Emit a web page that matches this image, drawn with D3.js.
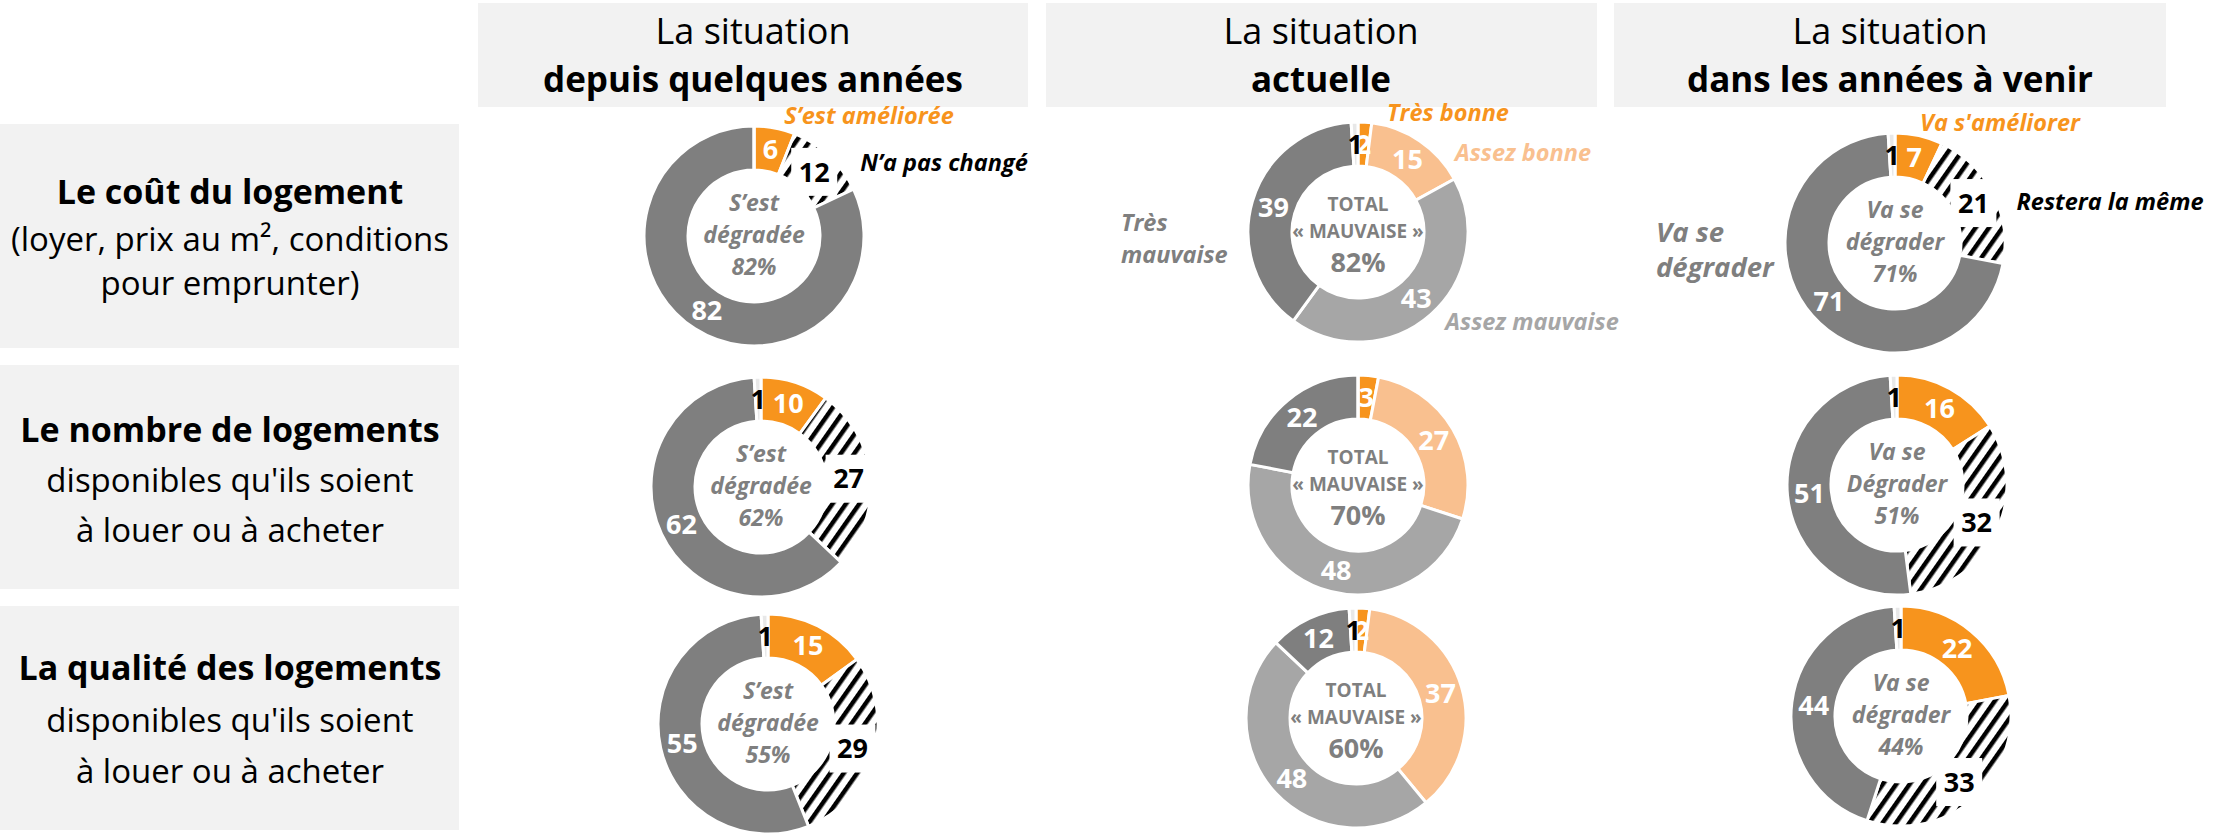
<!DOCTYPE html>
<html lang="fr">
<head>
<meta charset="utf-8">
<title>Logement - situation</title>
<script src="https://d3js.org/d3.v7.min.js"></script>
<style>
  body { margin: 0; background: #fff; }
  svg { display: block; font-family: "Open Sans", sans-serif; }
</style>
</head>
<body>
<script>
// ---- data ----
var columnTitles = ["depuis quelques années", "actuelle", "dans les années à venir"];
var rowTitles = ["Le coût du logement", "Le nombre de logements", "La qualité des logements"];
var rowSubtitles = [
  ["(loyer, prix au m², conditions", "pour emprunter)"],
  ["disponibles qu'ils soient", "à louer ou à acheter"],
  ["disponibles qu'ils soient", "à louer ou à acheter"]
];

var pastCategories = ["S’est améliorée", "N’a pas changé", "S’est dégradée", "NSP"];
var pastValues = [[6, 12, 82, 0], [10, 27, 62, 1], [15, 29, 55, 1]];

var currentCategories = ["Très bonne", "Assez bonne", "Assez mauvaise", "Très mauvaise", "NSP"];
var currentValues = [[2, 15, 43, 39, 1], [3, 27, 48, 22, 0], [2, 37, 48, 12, 1]];

var futureCategories = ["Va s'améliorer", "Restera la même", "Va se dégrader", "NSP"];
var futureValues = [[7, 21, 71, 1], [16, 32, 51, 1], [22, 33, 44, 1]];

var pastCenter = [["S’est", "dégradée"], ["S’est", "dégradée"], ["S’est", "dégradée"]];
var currentCenter = [["TOTAL", "« MAUVAISE »"], ["TOTAL", "« MAUVAISE »"], ["TOTAL", "« MAUVAISE »"]];
var futureCenter = [["Va se", "dégrader"], ["Va se", "Dégrader"], ["Va se", "dégrader"]];

// ---- layout ----
var w = 2236, h = 837;
var orange = "#f7941d", lightOrange = "#f9c08f", darkGray = "#7f7f7f", midGray = "#a6a6a6", nsp = "#e8e8e8";
var colX = [753, 1321, 1890];
var headerBoxes = [[478, 1028], [1046, 1597], [1614, 2166]];
var rowBoxes = [[124, 348], [365, 589], [606, 830]];
var centers = [
  [[754, 236], [761, 487], [768, 724]],
  [[1358, 232], [1358, 485], [1356, 718]],
  [[1895, 243], [1897, 485], [1901, 716]]
];
var outerR = 110, innerR = 66;

var svg = d3.select("body").append("svg").attr("width", w).attr("height", h);

// hatch pattern
var defs = svg.append("defs");
defs.append("pattern")
  .attr("id", "hatch")
  .attr("patternUnits", "userSpaceOnUse")
  .attr("width", 11).attr("height", 11)
  .attr("patternTransform", "rotate(35)")
  .call(function(p) {
    p.append("rect").attr("width", 11).attr("height", 11).attr("fill", "#fff");
    p.append("rect").attr("x", 0).attr("width", 4.5).attr("height", 11).attr("fill", "#000");
  });

// header boxes
columnTitles.forEach(function(t, i) {
  svg.append("rect").attr("x", headerBoxes[i][0]).attr("y", 3)
    .attr("width", headerBoxes[i][1] - headerBoxes[i][0]).attr("height", 104).attr("fill", "#f2f2f2");
  svg.append("text").attr("x", colX[i]).attr("y", 44).attr("text-anchor", "middle")
    .attr("font-size", 36).attr("fill", "#000").text("La situation");
  svg.append("text").attr("x", colX[i]).attr("y", 92).attr("text-anchor", "middle")
    .attr("font-size", 35).attr("font-weight", "bold").attr("fill", "#000").text(t);
});

// row boxes
var rowBaselines = [[204, 251, 295], [442, 492, 542], [680, 732, 783]];
rowTitles.forEach(function(t, i) {
  svg.append("rect").attr("x", 0).attr("y", rowBoxes[i][0])
    .attr("width", 459).attr("height", rowBoxes[i][1] - rowBoxes[i][0]).attr("fill", "#f2f2f2");
  svg.append("text").attr("x", 230).attr("y", rowBaselines[i][0]).attr("text-anchor", "middle")
    .attr("font-size", 34).attr("font-weight", "bold").text(t);
  rowSubtitles[i].forEach(function(s, j) {
    svg.append("text").attr("x", 230).attr("y", rowBaselines[i][j + 1]).attr("text-anchor", "middle")
      .attr("font-size", 33).text(s);
  });
});

var pie = d3.pie().sort(null).value(function(d) { return d; });
var arc = d3.arc().innerRadius(innerR).outerRadius(outerR);

function drawDonut(cx, cy, values, colors, labelColors, centerLines, pct, style) {
  var g = svg.append("g").attr("transform", "translate(" + cx + "," + cy + ")");
  var arcs = pie(values);
  g.selectAll("path").data(arcs).enter().append("path")
    .attr("d", arc)
    .attr("fill", function(d, i) { return colors[i]; })
    .attr("stroke", "#fff").attr("stroke-width", 3);

  // labels: the tiny NSP label last so it sits on top
  var order = arcs.map(function(d, i) { return i; }).filter(function(i) { return values[i] > 0; });
  order.sort(function(a, b) { return (colors[a] === nsp) - (colors[b] === nsp); });
  order.forEach(function(i) {
    var c = arc.centroid(arcs[i]);
    if (colors[i] === "url(#hatch)") {
      g.append("rect").attr("x", c[0] - 23).attr("y", c[1] - 24).attr("width", 46).attr("height", 48).attr("fill", "#fff");
    }
    g.append("text").attr("x", c[0]).attr("y", c[1]).attr("dy", "0.36em")
      .attr("text-anchor", "middle").attr("font-size", 27).attr("font-weight", "bold")
      .attr("fill", labelColors[i]).text(values[i]);
  });

  var lines = centerLines.concat([pct + "%"]);
  lines.forEach(function(l, j) {
    var t = g.append("text").attr("text-anchor", "middle").attr("fill", "#7f7f7f").attr("font-weight", "bold").text(l);
    if (style === "total") {
      t.attr("y", [-28, -1, 30][j]).attr("dy", "0.36em").attr("font-size", j < 2 ? 19 : 27);
    } else {
      t.attr("y", [-33, -1, 31][j]).attr("dy", "0.36em").attr("font-size", 23).attr("font-style", "italic");
    }
  });
}

var yesNoColors = [orange, "url(#hatch)", darkGray, nsp];
var yesNoLabelColors = ["#fff", "#000", "#fff", "#000"];
var currentColors = [orange, lightOrange, midGray, darkGray, nsp];
var currentLabelColors = ["#fff", "#fff", "#fff", "#fff", "#000"];

for (var r = 0; r < 3; r++) {
  drawDonut(centers[0][r][0], centers[0][r][1], pastValues[r], yesNoColors, yesNoLabelColors,
    pastCenter[r], pastValues[r][2], "italic");
  drawDonut(centers[1][r][0], centers[1][r][1], currentValues[r], currentColors, currentLabelColors,
    currentCenter[r], currentValues[r][2] + currentValues[r][3], "total");
  drawDonut(centers[2][r][0], centers[2][r][1], futureValues[r], yesNoColors, yesNoLabelColors,
    futureCenter[r], futureValues[r][2], "italic");
}

// category annotations (first row)
function note(x, y, txt, color, size, anchor) {
  svg.append("text").attr("x", x).attr("y", y).attr("dy", "0.36em")
    .attr("text-anchor", anchor || "middle").attr("font-size", size || 23.5)
    .attr("font-weight", "bold").attr("font-style", "italic").attr("fill", color).text(txt);
}
note(869, 116, pastCategories[0], orange);
note(944, 163, pastCategories[1], "#000");

note(1448, 113, currentCategories[0], orange);
note(1523, 153, currentCategories[1], lightOrange);
note(1532, 322, currentCategories[2], midGray);
var tm = currentCategories[3].split(" ");
note(1121, 223, tm[0], darkGray, 23.5, "start");
note(1121, 255, tm[1], darkGray, 23.5, "start");

note(2000, 123, futureCategories[0], orange);
note(2110, 202, futureCategories[1], "#000");
var vd = futureCategories[2].split(" ");
note(1656, 232, vd[0] + " " + vd[1], darkGray, 27.5, "start");
note(1656, 267, vd[2], darkGray, 27.5, "start");
</script>
</body>
</html>
